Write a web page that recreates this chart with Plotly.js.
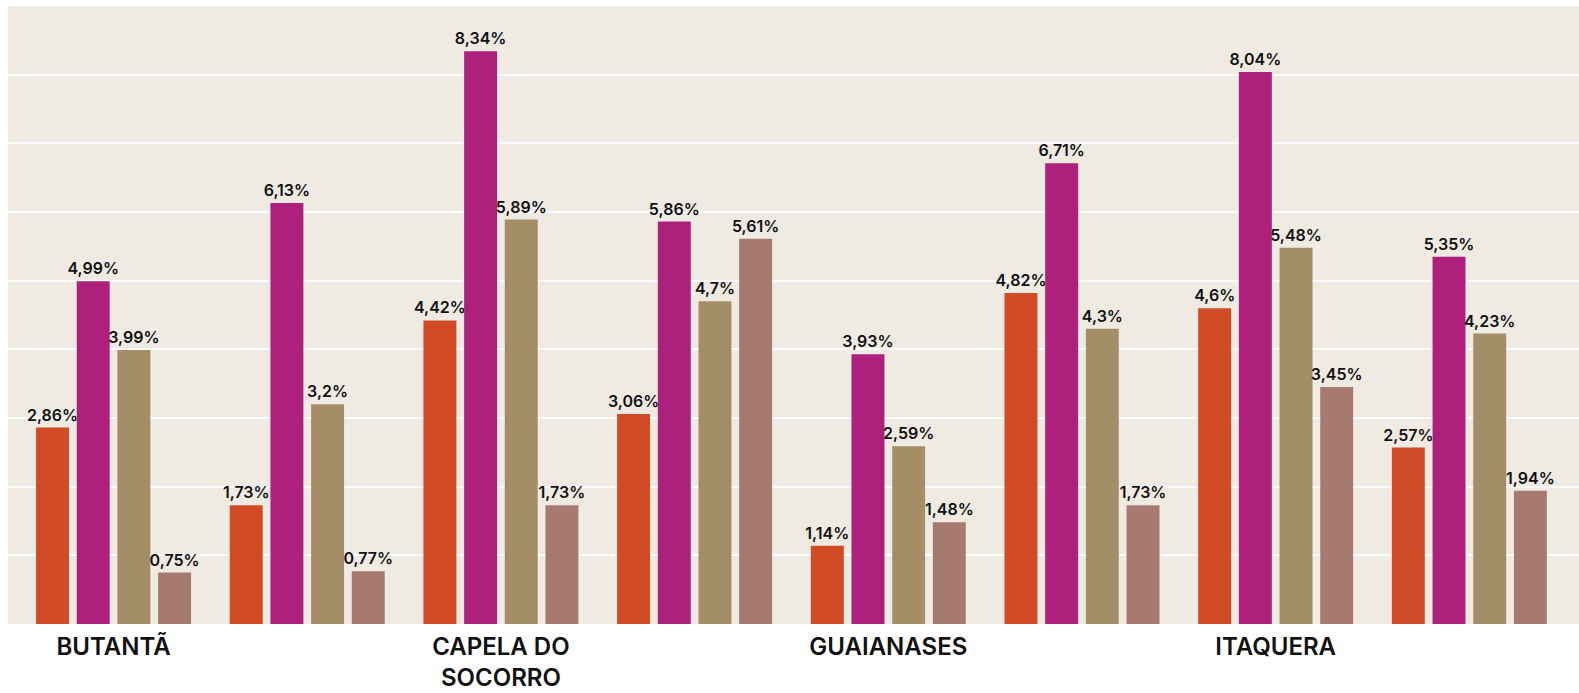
<!DOCTYPE html>
<html>
<head>
<meta charset="utf-8">
<script src="https://cdn.plot.ly/plotly-3.0.1.min.js"></script>
<style>html,body{margin:0;padding:0;background:#fff;}#chart{width:1579px;height:693px;}</style>
</head>
<body>
<div id="chart"></div>
<script>
// Categories: each district has two groups of bars
const categories = ['BUTANTÃ a', 'BUTANTÃ b', 'CAPELA DO SOCORRO a', 'CAPELA DO SOCORRO b',
                    'GUAIANASES a', 'GUAIANASES b', 'ITAQUERA a', 'ITAQUERA b'];
const tickLabels = ['BUTANTÃ', '', 'CAPELA DO<br>SOCORRO', '', 'GUAIANASES', '', 'ITAQUERA', ''];

const seriesNames = ['Série 1', 'Série 2', 'Série 3', 'Série 4'];
const series1 = [2.86, 1.73, 4.42, 3.06, 1.14, 4.82, 4.6, 2.57];
const series2 = [4.99, 6.13, 8.34, 5.86, 3.93, 6.71, 8.04, 5.35];
const series3 = [3.99, 3.2, 5.89, 4.7, 2.59, 4.3, 5.48, 4.23];
const series4 = [0.75, 0.77, 1.73, 5.61, 1.48, 1.73, 3.45, 1.94];

const colors = ['#D14B27', '#AD217D', '#A38E68', '#A67A6F'];
const allSeries = [series1, series2, series3, series4];

const fmt = v => String(v).replace('.', ',') + '%';

const traces = allSeries.map((vals, i) => ({
  type: 'bar',
  name: seriesNames[i],
  x: categories,
  y: vals,
  marker: {color: colors[i]},
  text: vals.map(fmt),
  textposition: 'outside',
  constraintext: 'none',
  cliponaxis: false,
  textfont: {family: 'Inter, sans-serif', size: 16, color: '#111', weight: 600},
  hoverinfo: 'x+y'
}));

const layout = {
  width: 1579,
  height: 693,
  margin: {l: 8, r: 0, t: 6, b: 69, pad: 0},
  paper_bgcolor: '#ffffff',
  plot_bgcolor: '#EFEAE2',
  barmode: 'group',
  bargap: 0.16,
  bargroupgap: 0.19,
  showlegend: false,
  xaxis: {
    type: 'category',
    range: [-0.545, 7.566],
    tickmode: 'array',
    tickvals: categories,
    ticktext: tickLabels,
    ticks: '',
    ticklabelstandoff: 6,
    showgrid: false,
    zeroline: false,
    showline: false,
    tickfont: {family: 'Inter, sans-serif', size: 24, color: '#111', weight: 600}
  },
  yaxis: {
    range: [0, 9],
    dtick: 1,
    showticklabels: false,
    showgrid: true,
    gridcolor: '#ffffff',
    gridwidth: 2,
    zeroline: false,
    showline: false,
    ticks: ''
  }
};

Plotly.newPlot('chart', traces, layout, {displayModeBar: false, responsive: false});
</script>
</body>
</html>
